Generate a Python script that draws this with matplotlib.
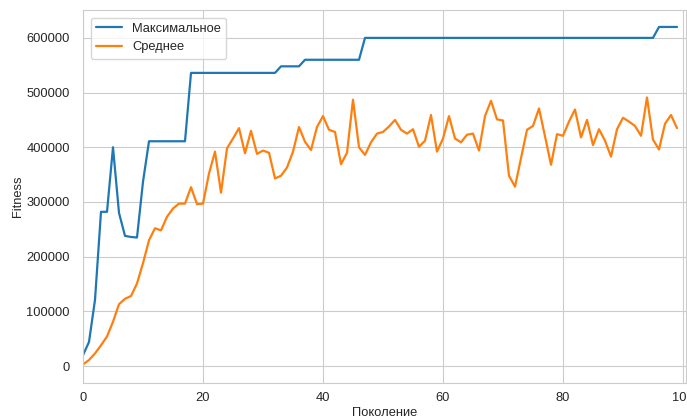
import matplotlib
matplotlib.use("Agg")
import matplotlib.pyplot as plt
import seaborn as sns

# generation numbers
generations = list(range(100))

# best fitness per generation
max_fitness = [20000, 44000, 121000, 282000, 282000, 400000, 280000, 238000, 236000, 235000,
               337000, 411000, 411000, 411000, 411000, 411000, 411000, 411000, 536000, 536000,
               536000, 536000, 536000, 536000, 536000, 536000, 536000, 536000, 536000, 536000,
               536000, 536000, 536000, 548000, 548000, 548000, 548000, 560000, 560000, 560000,
               560000, 560000, 560000, 560000, 560000, 560000, 560000, 600000, 600000, 600000,
               600000, 600000, 600000, 600000, 600000, 600000, 600000, 600000, 600000, 600000,
               600000, 600000, 600000, 600000, 600000, 600000, 600000, 600000, 600000, 600000,
               600000, 600000, 600000, 600000, 600000, 600000, 600000, 600000, 600000, 600000,
               600000, 600000, 600000, 600000, 600000, 600000, 600000, 600000, 600000, 600000,
               600000, 600000, 600000, 600000, 600000, 600000, 620000, 620000, 620000, 620000]

# mean fitness per generation
mean_fitness = [3000, 11000, 23000, 38000, 54000, 81000, 113000, 123000, 128000, 151000,
                188000, 230000, 252000, 248000, 273000, 288000, 297000, 297000, 327000, 296000,
                297000, 352000, 392000, 317000, 398000, 416000, 435000, 389000, 430000, 388000,
                394000, 390000, 343000, 348000, 363000, 392000, 437000, 410000, 395000, 437000,
                457000, 432000, 428000, 369000, 390000, 487000, 400000, 386000, 409000, 425000,
                428000, 438000, 450000, 432000, 425000, 433000, 401000, 412000, 459000, 392000,
                416000, 457000, 416000, 409000, 423000, 425000, 394000, 457000, 485000, 451000,
                449000, 348000, 328000, 380000, 432000, 439000, 471000, 420000, 368000, 424000,
                421000, 447000, 469000, 418000, 450000, 404000, 433000, 412000, 383000, 433000,
                454000, 447000, 439000, 421000, 491000, 414000, 396000, 443000, 459000, 435000]

sns.set_style("whitegrid")
plt.rcParams['font.family'] = ['Liberation Sans', 'DejaVu Sans']
plt.rcParams['text.color'] = '.15'
plt.rcParams['axes.labelcolor'] = '.15'
plt.rcParams['xtick.color'] = '.15'
plt.rcParams['ytick.color'] = '.15'

fig = plt.figure(figsize=(6.87, 4.18), dpi=100)
ax = fig.add_axes([83 / 687, 1 - 383 / 418, 603 / 687, 373 / 418])

ax.plot(generations, max_fitness, color='#1f77b4', lw=1.6, label='Максимальное')
ax.plot(generations, mean_fitness, color='#ff7f0e', lw=1.6, label='Среднее')

ax.set_xlim(0, 100.5)
ax.set_ylim(-31000, 651000)
ax.set_xticks([0, 20, 40, 60, 80, 100])
ax.set_yticks([0, 100000, 200000, 300000, 400000, 500000, 600000])
ax.tick_params(axis='x', labelsize=9.3, pad=3)
ax.tick_params(axis='y', labelsize=9.3, pad=6)
ax.set_xlabel('Поколение', fontsize=9.3, labelpad=2)
ax.set_ylabel('Fitness', fontsize=9.3, labelpad=2)

leg = ax.legend(loc='upper left', fontsize=9.3, frameon=True, borderaxespad=0.6)
leg.get_frame().set_edgecolor('.8')

fig.savefig('out.png', dpi=100)
